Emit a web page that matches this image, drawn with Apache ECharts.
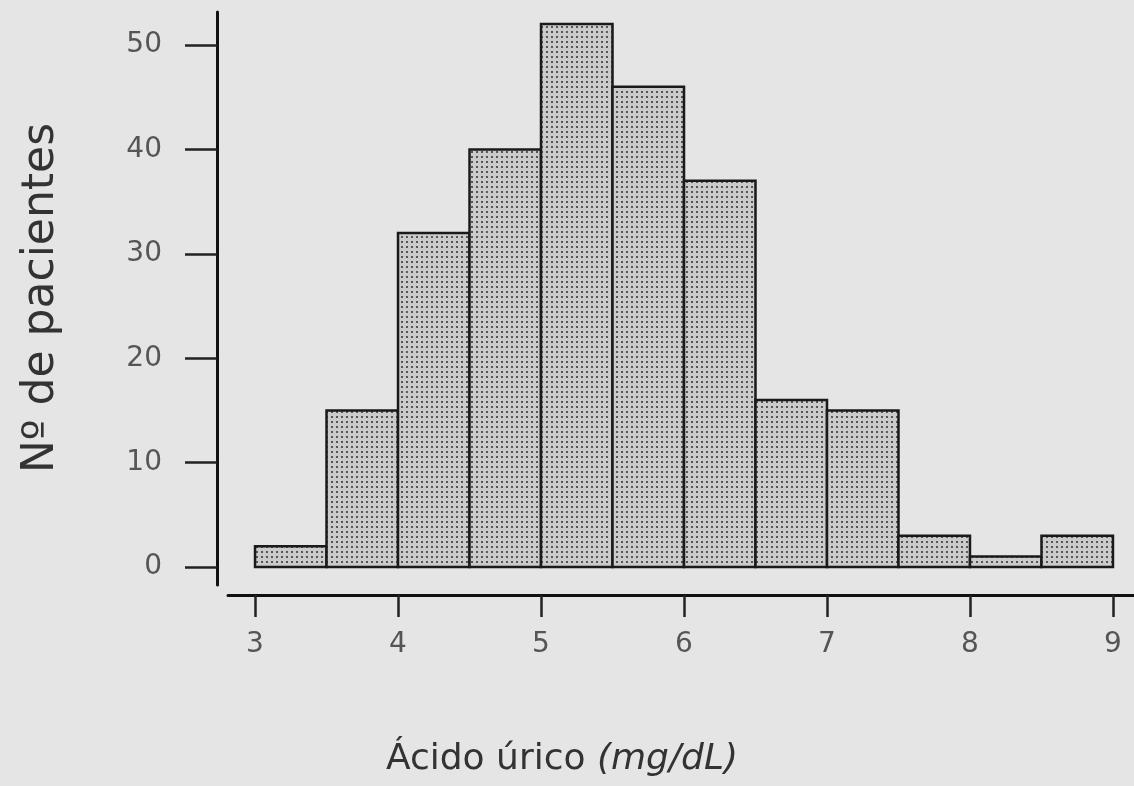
<!DOCTYPE html>
<html>
<head>
<meta charset="utf-8">
<script src="https://cdn.jsdelivr.net/npm/echarts@6/dist/echarts.min.js"></script>
<style>
  html, body { margin: 0; padding: 0; background: #e5e5e5; }
  #chart { width: 1134px; height: 786px; }
</style>
</head>
<body>
<div id="chart"></div>
<script>
// dados do histograma (ácido úrico, classes de 0,5 mg/dL)
var binStarts = [3, 3.5, 4, 4.5, 5, 5.5, 6, 6.5, 7, 7.5, 8, 8.5];
var binWidth = 0.5;
var counts = [2, 15, 32, 40, 52, 46, 37, 16, 15, 3, 1, 3];
var xTicks = [3, 4, 5, 6, 7, 8, 9];
var yTicks = [0, 10, 20, 30, 40, 50];

// padrão pontilhado das barras
var patternCanvas = document.createElement('canvas');
patternCanvas.width = 5;
patternCanvas.height = 5;
var pctx = patternCanvas.getContext('2d');
pctx.fillStyle = '#cbcbcb';
pctx.fillRect(0, 0, 5, 5);
pctx.fillStyle = '#555';
pctx.fillRect(1, 1, 2, 2);

var chart = echarts.init(document.getElementById('chart'));

var barData = binStarts.map(function (s, i) {
  return [s, s + binWidth, counts[i]];
});

function renderBar(params, api) {
  var p0 = api.coord([api.value(0), api.value(2)]);
  var p1 = api.coord([api.value(1), 0]);
  return {
    type: 'rect',
    shape: { x: p0[0], y: p0[1], width: p1[0] - p0[0], height: p1[1] - p0[1] },
    style: { fill: { image: patternCanvas, repeat: 'repeat' }, stroke: '#1a1a1a', lineWidth: 2.5 }
  };
}

var option = {
  backgroundColor: '#e5e5e5',
  animation: false,
  grid: { left: 228, right: 0, top: 12, bottom: 201 },
  xAxis: {
    type: 'value',
    min: 2.811,
    max: 9.147,
    offset: 10,
    splitLine: { show: false },
    axisLine: { onZero: false, lineStyle: { color: '#111', width: 3 } },
    axisTick: { customValues: xTicks, length: 22, lineStyle: { color: '#222', width: 2.5 } },
    axisLabel: {
      customValues: xTicks,
      margin: 36,
      color: '#555',
      fontFamily: 'DejaVu Sans',
      fontSize: 28
    }
  },
  yAxis: {
    type: 'value',
    min: -1.72,
    max: 53.16,
    offset: 11,
    splitLine: { show: false },
    axisLine: { show: true, onZero: false, lineStyle: { color: '#111', width: 3 } },
    axisTick: { customValues: yTicks, length: 32, lineStyle: { color: '#222', width: 2.5 } },
    axisLabel: {
      customValues: yTicks,
      margin: 55,
      color: '#555',
      fontFamily: 'DejaVu Sans',
      fontSize: 28
    }
  },
  graphic: [
    {
      type: 'text',
      x: 42,
      y: 298,
      rotation: Math.PI / 2,
      style: {
        text: 'Nº de pacientes',
        align: 'center',
        verticalAlign: 'middle',
        fill: '#333',
        font: '44px "DejaVu Sans"'
      }
    },
    {
      type: 'text',
      x: 562,
      y: 760,
      style: {
        text: '{a|Ácido úrico }{b|(mg/dL)}',
        align: 'center',
        verticalAlign: 'middle',
        rich: {
          a: { fill: '#333', font: '36px "DejaVu Sans"' },
          b: { fill: '#333', font: 'italic 36px "DejaVu Sans"' }
        }
      }
    }
  ],
  series: [
    {
      type: 'custom',
      renderItem: renderBar,
      encode: { x: [0, 1], y: 2 },
      data: barData
    }
  ]
};

chart.setOption(option);
</script>
</body>
</html>
